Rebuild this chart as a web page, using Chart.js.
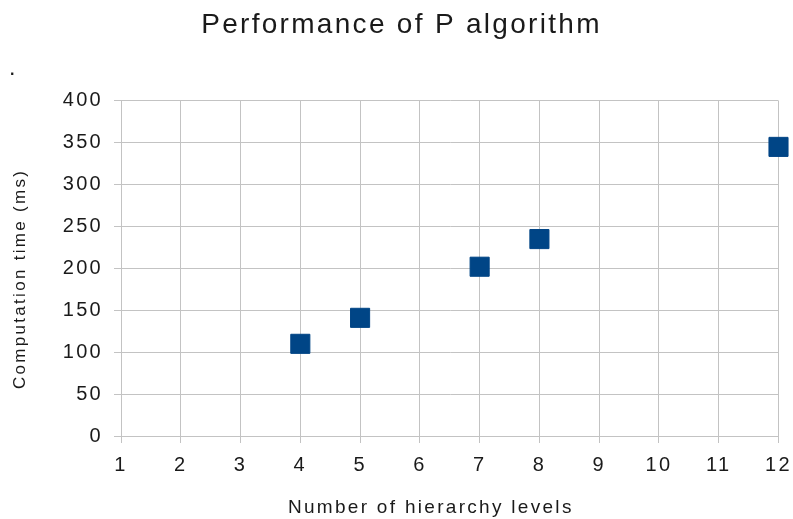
<!DOCTYPE html>
<html>
<head>
<meta charset="utf-8">
<script src="https://cdn.jsdelivr.net/npm/chart.js@4/dist/chart.umd.min.js"></script>
<style>
  html, body { margin: 0; padding: 0; background: #fff; }
  #wrap { width: 793px; height: 519px; }
</style>
</head>
<body>
<div id="wrap"><canvas id="chart"></canvas></div>
<script>
const levels = [4, 5, 7, 8, 12];
const times = [110, 141, 202, 235, 345];
const xTicks = [1, 2, 3, 4, 5, 6, 7, 8, 9, 10, 11, 12];
const yTicks = [0, 50, 100, 150, 200, 250, 300, 350, 400];

const gridColor = '#c3c3c3';
const textColor = '#1a1a1a';
const fontFamily = '"Liberation Sans", Arial, sans-serif';

// the original text is drawn a little wider than plain Arial
const spacing = {
  id: 'spacing',
  beforeLayout(chart) { chart.ctx.letterSpacing = '2.3px'; },
  beforeDraw(chart) { chart.ctx.letterSpacing = '2.3px'; }
};

const ctx = document.getElementById('chart').getContext('2d');
new Chart(ctx, {
  type: 'scatter',
  plugins: [spacing],
  data: {
    datasets: [{
      label: 'Computation time',
      data: levels.map((x, i) => ({ x: x, y: times[i] })),
      backgroundColor: '#004586',
      borderColor: '#004586',
      borderWidth: 1,
      pointStyle: 'rect',
      pointRadius: 13.5,
      pointHoverRadius: 13.5,
      clip: false
    }]
  },
  options: {
    responsive: true,
    maintainAspectRatio: false,
    animation: false,
    layout: { padding: { left: 10, right: 0, top: 0, bottom: 0 } },
    plugins: {
      legend: { display: false },
      tooltip: { enabled: false },
      title: {
        display: true,
        text: 'Performance of P algorithm',
        color: textColor,
        font: { family: fontFamily, size: 28, weight: 'normal' },
        padding: { top: 8, bottom: 19 }
      },
      subtitle: {
        display: true,
        text: '.',
        align: 'start',
        color: textColor,
        font: { family: fontFamily, size: 16, weight: 'bold' },
        padding: { top: 0, bottom: 21 }
      }
    },
    scales: {
      x: {
        type: 'linear',
        min: xTicks[0],
        max: xTicks[xTicks.length - 1],
        afterBuildTicks: (scale) => { scale.ticks = xTicks.map(v => ({ value: v })); },
        afterFit: (scale) => {
          scale.height = 83;
          scale.paddingLeft = 0;
          scale.paddingRight = 13;
        },
        grid: { color: gridColor, lineWidth: 1, tickLength: 7, drawTicks: true },
        border: { color: gridColor },
        ticks: { color: textColor, font: { family: fontFamily, size: 20 }, padding: 10, maxRotation: 0 },
        title: {
          display: true,
          text: 'Number of hierarchy levels     ',
          color: textColor,
          font: { family: fontFamily, size: 19 },
          padding: { top: 9, bottom: 0 }
        }
      },
      y: {
        min: yTicks[0],
        max: yTicks[yTicks.length - 1],
        afterBuildTicks: (scale) => { scale.ticks = yTicks.map(v => ({ value: v })); },
        afterFit: (scale) => { scale.width = 111; },
        grid: { color: gridColor, lineWidth: 1, tickLength: 7, drawTicks: true },
        border: { color: gridColor },
        ticks: { color: textColor, font: { family: fontFamily, size: 20 }, padding: 11 },
        title: {
          display: true,
          text: 'Computation time (ms)   ',
          color: textColor,
          font: { family: fontFamily, size: 17 },
          padding: { top: 0, bottom: 2 }
        }
      }
    }
  }
});
</script>
</body>
</html>
